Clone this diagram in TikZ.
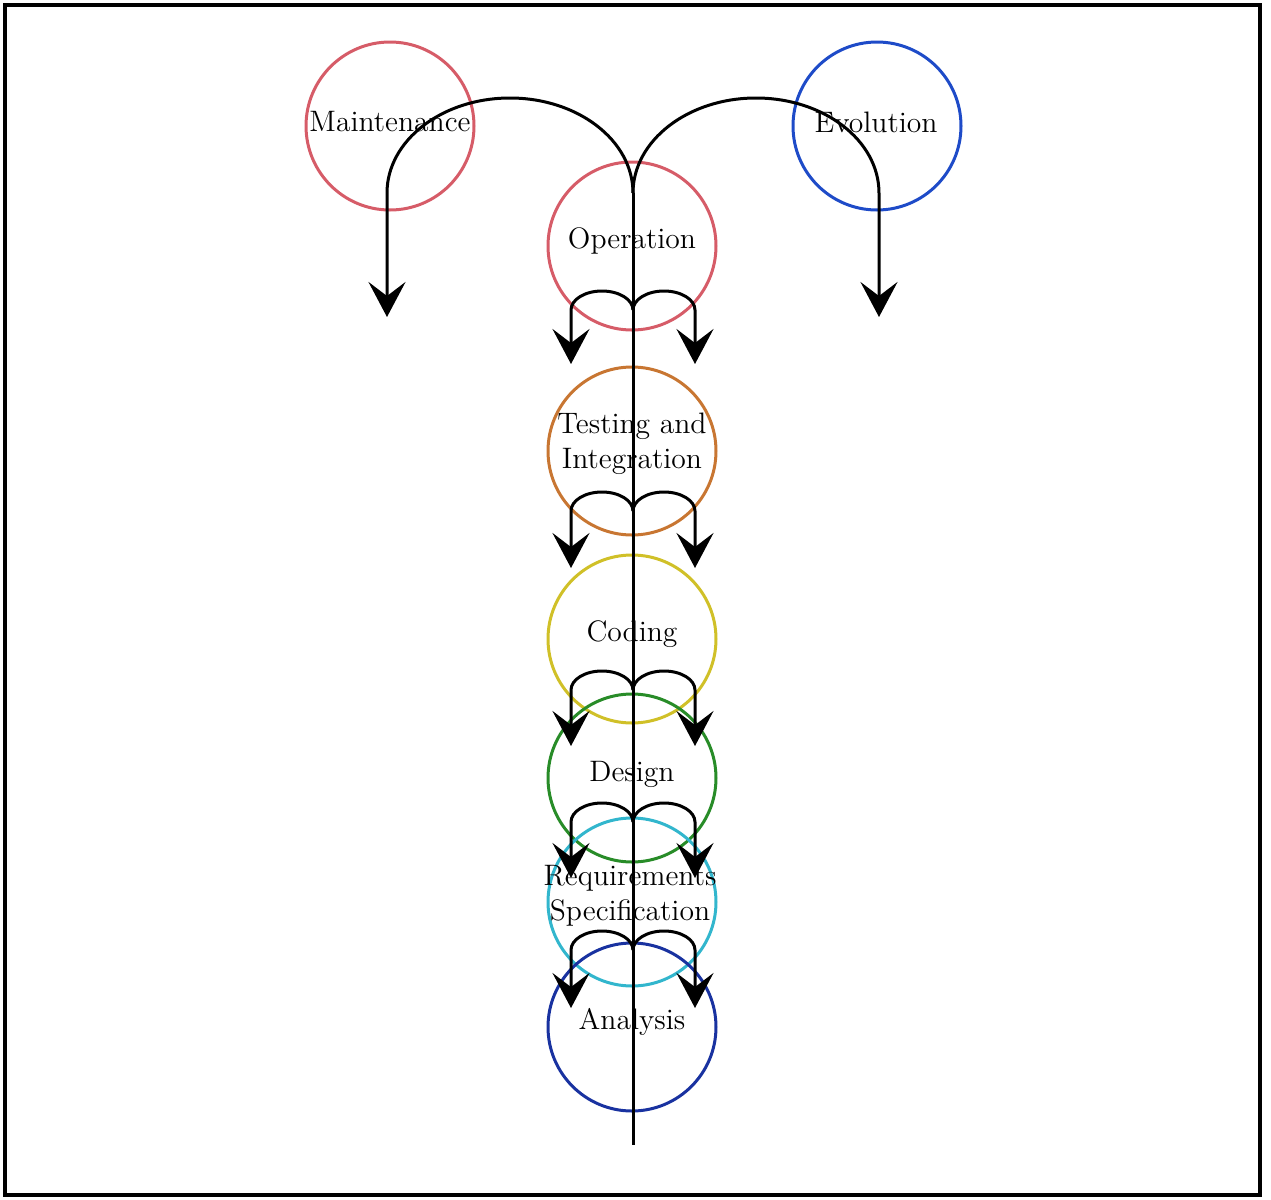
\documentclass[tikz,border=0pt]{standalone}
\usetikzlibrary{arrows.meta}
\definecolor{cRed}{RGB}{214,92,104}
\definecolor{cEvo}{RGB}{30,75,200}
\definecolor{cTest}{RGB}{200,118,50}
\definecolor{cCode}{RGB}{208,192,40}
\definecolor{cDes}{RGB}{40,140,40}
\definecolor{cReq}{RGB}{50,182,205}
\definecolor{cAna}{RGB}{25,50,160}
\begin{document}
\begin{tikzpicture}[x=0.5pt,y=-0.5pt,
  ring/.style={circle, draw=#1, line width=1.5pt, minimum size=84pt, inner sep=0pt},
  lbl/.style={font=\fontsize{14.8pt}{17.5pt}\selectfont, align=center, inner sep=0pt},
  flow/.style={line width=1.5pt, -{Stealth[length=17.5pt,width=18.5pt,inset=7pt]}},
  spine/.style={line width=1.5pt},
  frame/.style={line width=2pt}]
\useasboundingbox (0,0) rectangle (1271,1200);
\draw[frame] (4.5,5) rectangle (1260,1195);
% circles
\node[ring=cRed]  (mai) at (390,126)  {};
\node[ring=cEvo]  (evo) at (877,126)  {};
\node[ring=cRed]  (ope) at (632,246)  {};
\node[ring=cTest] (tes) at (632,451)  {};
\node[ring=cCode] (cod) at (632,639)  {};
\node[ring=cDes]  (des) at (632,778)  {};
\node[ring=cReq]  (req) at (632,902)  {};
\node[ring=cAna]  (ana) at (632,1027) {};
% labels
\node[lbl] (maiT) at (390,122)  {Maintenance};
\node[lbl] (evoT) at (876,122)  {Evolution};
\node[lbl] (opeT) at (632,241)  {Operation};
\node[lbl] (tesT) at (632,444)  {Testing and\\Integration};
\node[lbl] (codT) at (632,634)  {Coding};
\node[lbl] (desT) at (632,774)  {Design};
\node[lbl] (reqT) at (630,896)  {Requirements\\Specification};
\node[lbl] (anaT) at (632,1022) {Analysis};
% spine
\coordinate (J0) at (633,193);
\coordinate (Bot) at (633,1145);
\coordinate (ML) at (387,317);
\coordinate (ER) at (879,317);
\draw[spine] (J0) -- (Bot);
\draw[flow] (J0) arc[start angle=0,end angle=180,x radius=61.5pt,y radius=47.5pt] -- (ML);
\draw[flow] (J0) arc[start angle=180,end angle=0,x radius=61.5pt,y radius=47.5pt] -- (ER);
% small arrow pairs
\foreach \n/\j/\t in {a/310/364, b/511/568, c/690/746, d/822/878, e/950/1008}{
  \coordinate (J\n) at (633,\j);
  \coordinate (L\n) at (571,\t);
  \coordinate (R\n) at (695,\t);
  \draw[flow] (J\n) arc[start angle=0,end angle=180,x radius=15.5pt,y radius=9.5pt] -- (L\n);
  \draw[flow] (J\n) arc[start angle=180,end angle=0,x radius=15.5pt,y radius=9.5pt] -- (R\n);
}
\end{tikzpicture}
\end{document}
